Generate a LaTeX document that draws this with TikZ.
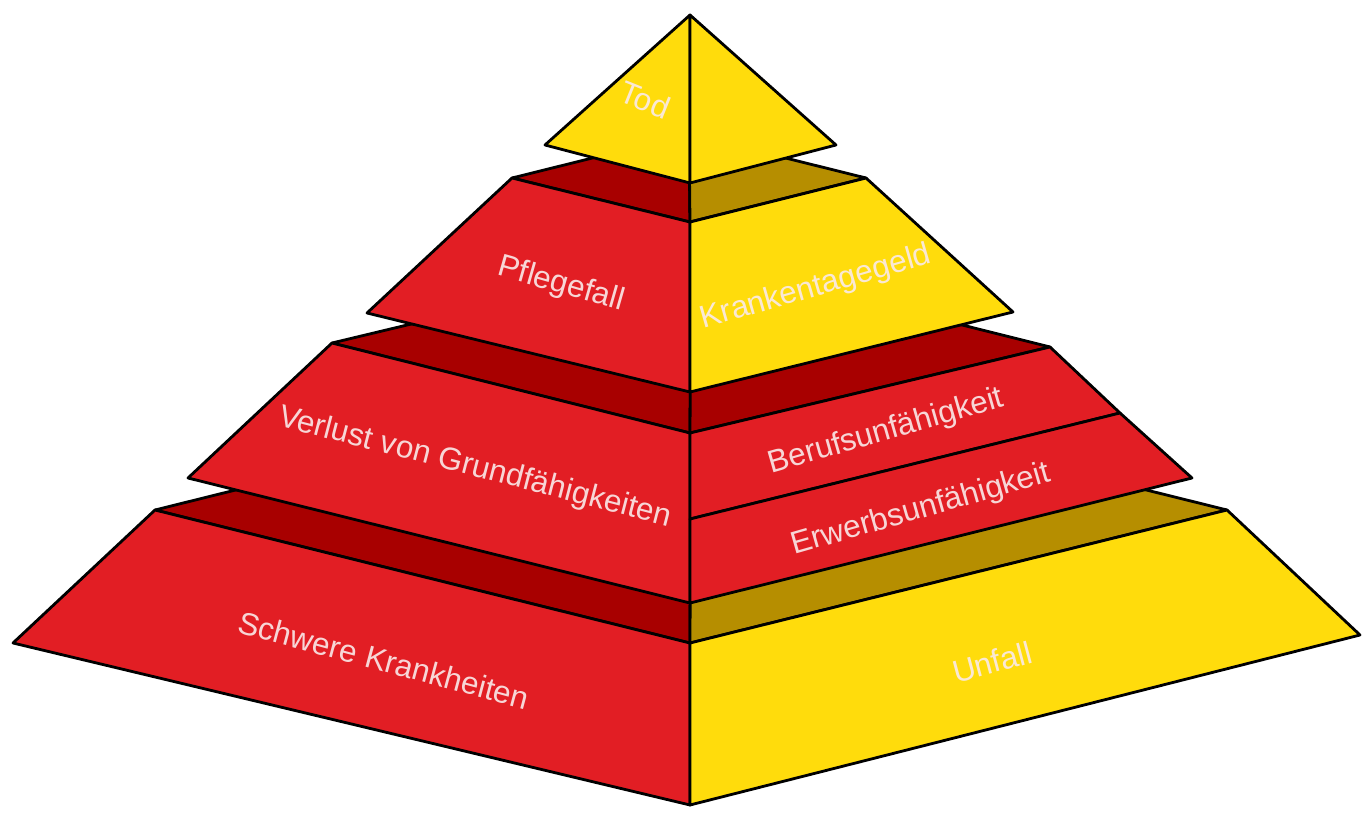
\documentclass[tikz,border=0pt]{standalone}
\usepackage{fontspec}
\setmainfont{Liberation Sans}
\definecolor{pred}{RGB}{226,30,36}
\definecolor{pdark}{RGB}{168,0,0}
\definecolor{pyel}{RGB}{255,220,12}
\definecolor{polive}{RGB}{182,142,0}
\definecolor{ptext}{RGB}{250,234,234}
\begin{document}
\begin{tikzpicture}[x=1pt,y=-1pt,
  face/.style={fill=#1,draw=black,line width=2.8pt,line join=round},
  lbl/.style={text=ptext,text opacity=0.9,font=\fontsize{31.5}{31.5}\selectfont,inner sep=0pt}]
\useasboundingbox (0,0) rectangle (1363,813);
% coordinates
\coordinate (apex) at (690,15);
\coordinate (t1L) at (545,145); \coordinate (t1F) at (690,183); \coordinate (t1R) at (836,145);
\coordinate (t2L) at (512,178); \coordinate (t2F) at (690,222); \coordinate (t2R) at (866,178); \coordinate (t2B) at (689,134);
\coordinate (t2BL) at (367,313); \coordinate (t2BC) at (690,392); \coordinate (t2BR) at (1013,312);
\coordinate (t3L) at (332,343); \coordinate (t3F) at (690,433); \coordinate (t3R) at (1050,347); \coordinate (t3B) at (691,257);
\coordinate (t3DR) at (1120,413); \coordinate (t3DC) at (690,519);
\coordinate (t3BL) at (188,478); \coordinate (t3BC) at (690,603); \coordinate (t3BR) at (1192,478);
\coordinate (t4L) at (155,510); \coordinate (t4F) at (690,643); \coordinate (t4R) at (1227,510); \coordinate (t4B) at (691,377);
\coordinate (t4BL) at (13,643); \coordinate (t4BC) at (690,805); \coordinate (t4BR) at (1360,635);
% tier 4
\draw[face=pdark] (t4L) -- (t4B) -- (t4F) -- cycle;
\draw[face=polive] (t4B) -- (t4R) -- (t4F) -- cycle;
\draw[face=pred] (t4L) -- (t4F) -- (t4BC) -- (t4BL) -- cycle;
\draw[face=pyel] (t4F) -- (t4R) -- (t4BR) -- (t4BC) -- cycle;
% tier 3
\draw[face=pdark] (t3L) -- (t3B) -- (t3F) -- cycle;
\draw[face=pdark] (t3B) -- (t3R) -- (t3F) -- cycle;
\draw[face=pred] (t3L) -- (t3F) -- (t3BC) -- (t3BL) -- cycle;
\draw[face=pred] (t3F) -- (t3R) -- (t3DR) -- (t3DC) -- cycle;
\draw[face=pred] (t3DC) -- (t3DR) -- (t3BR) -- (t3BC) -- cycle;
% tier 2
\draw[face=pdark] (t2L) -- (t2B) -- (t2F) -- cycle;
\draw[face=polive] (t2B) -- (t2R) -- (t2F) -- cycle;
\draw[face=pred] (t2L) -- (t2F) -- (t2BC) -- (t2BL) -- cycle;
\draw[face=pyel] (t2F) -- (t2R) -- (t2BR) -- (t2BC) -- cycle;
% tier 1
\draw[face=pyel] (apex) -- (t1L) -- (t1F) -- cycle;
\draw[face=pyel] (apex) -- (t1F) -- (t1R) -- cycle;
% labels
\node[lbl,rotate=-22] (tod) at (645,100) {Tod};
\node[lbl,rotate=-16] (pflege) at (561,285) {Pflegefall};
\node[lbl,rotate=16] (ktg) at (816,288) {Krankentagegeld};
\node[lbl,rotate=-14.5] (verlust) at (475,468) {Verlust von Grundfähigkeiten};
\node[lbl,rotate=16] (beruf) at (886,432) {Berufsunfähigkeit};
\node[lbl,rotate=16] (erwerb) at (921,510) {Erwerbsunfähigkeit};
\node[lbl,rotate=-15] (schwer) at (384,660) {Schwere Krankheiten};
\node[lbl,rotate=15] (unfall) at (992,662) {Unfall};
\end{tikzpicture}
\end{document}
